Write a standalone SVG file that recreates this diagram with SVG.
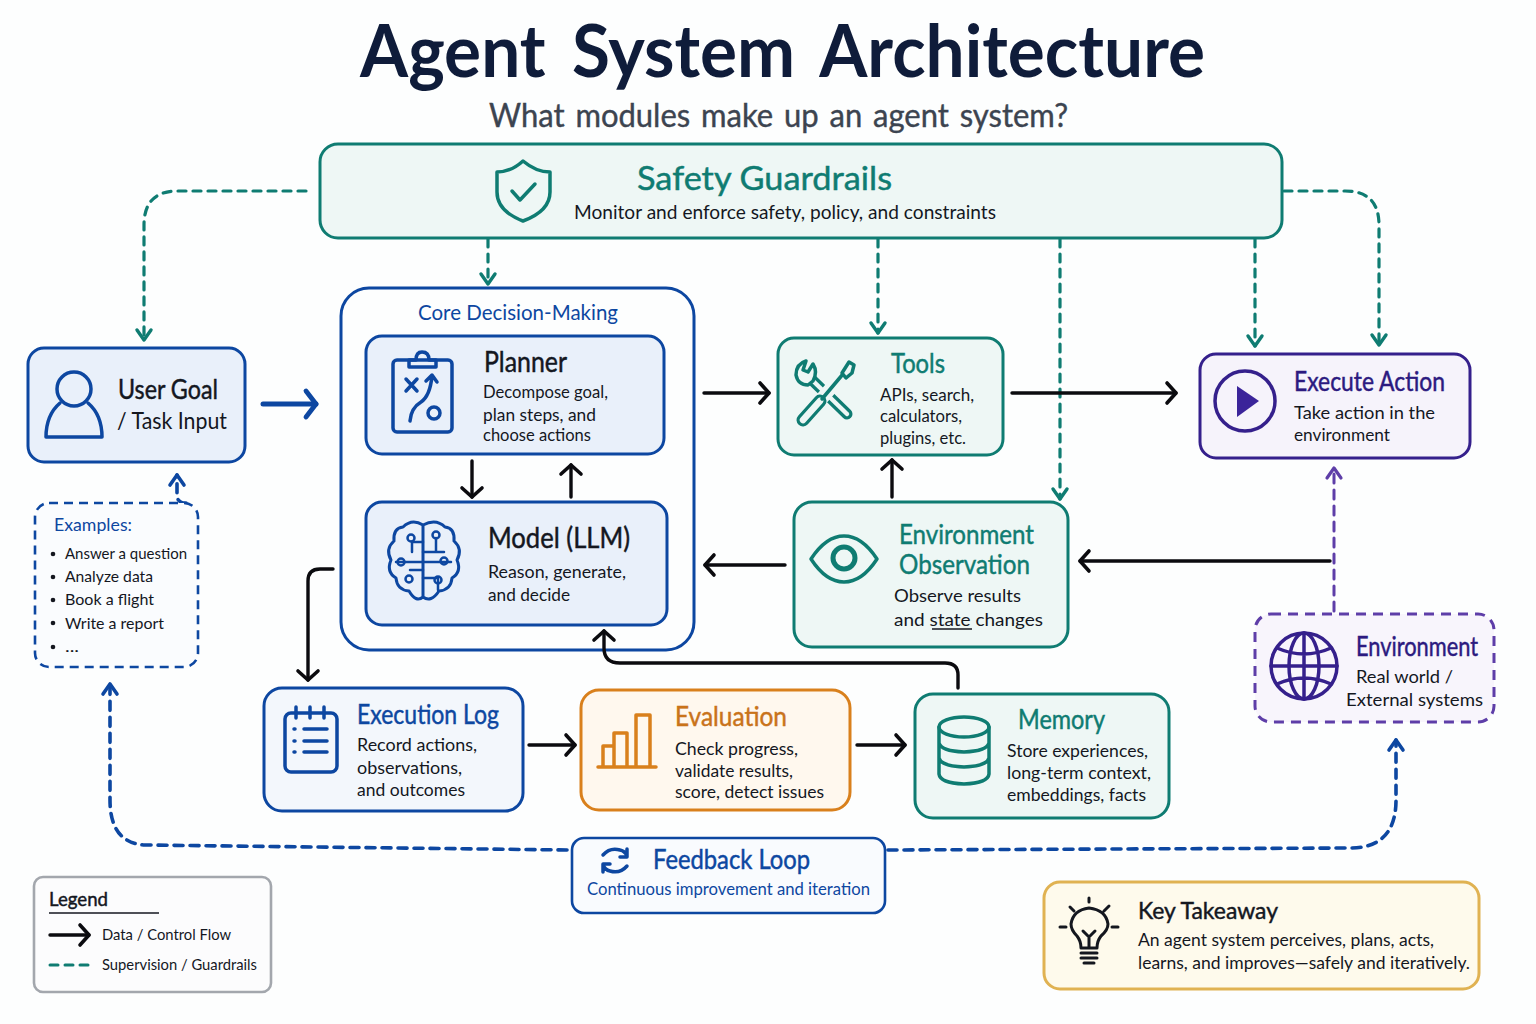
<svg xmlns="http://www.w3.org/2000/svg" width="1536" height="1024" viewBox="0 0 1536 1024">
<style>
text{font-family:"Lato","Noto Sans","Liberation Sans",sans-serif;fill:#14171f;stroke:#14171f;stroke-width:0}
.box{stroke-width:3}
.teal{fill:#eef7f5;stroke:#0f7c72}
.blue{fill:#e9f0fa;stroke:#0d47a1}
.lblue{fill:#f3f7fc;stroke:#0d47a1}
.ind{fill:#f6f3fb;stroke:#35208c}
.ic{fill:none;stroke-width:3.5;stroke-linecap:round;stroke-linejoin:round}
.ict{stroke:#0f7c72}.icb{stroke:#0d47a1}.ici{stroke:#35208c}.ico{stroke:#d9801c}.ick{stroke:#14171f}
.tt{fill:#0f7c72;stroke:#0f7c72}.tb{fill:#0d47a1;stroke:#0d47a1}.ti{fill:#2c1a80;stroke:#2c1a80}.to{fill:#c9731a;stroke:#c9731a}
.h{font-size:26px}
.w{stroke-width:.45}
.d{font-size:18px}
.cn{fill:none;stroke-linecap:round;stroke-linejoin:round}
.k{stroke:#0b0b0f;stroke-width:3.4}
.gd{stroke:#0f7c72;stroke-width:3.2;stroke-dasharray:8 7}
.fb{stroke:#0d47a1;stroke-width:3.6;stroke-dasharray:9 7}
.pd{stroke:#5e3ea8;stroke-width:3;stroke-dasharray:9 7}
</style>
<defs>
<marker id="ak" markerUnits="userSpaceOnUse" markerWidth="24" markerHeight="28" refX="16" refY="14" orient="auto"><path d="M7 4 L16 14 L7 24" fill="none" stroke="#0b0b0f" stroke-width="3.6" stroke-linecap="round" stroke-linejoin="round"/></marker>
<marker id="at" markerUnits="userSpaceOnUse" markerWidth="24" markerHeight="28" refX="16" refY="14" orient="auto"><path d="M6 7 L16 14 L6 21" fill="none" stroke="#0f7c72" stroke-width="3.4" stroke-linecap="round" stroke-linejoin="round"/></marker>
<marker id="ab" markerUnits="userSpaceOnUse" markerWidth="24" markerHeight="28" refX="16" refY="14" orient="auto"><path d="M6 7 L16 14 L6 21" fill="none" stroke="#0d47a1" stroke-width="3.6" stroke-linecap="round" stroke-linejoin="round"/></marker>
<marker id="ap" markerUnits="userSpaceOnUse" markerWidth="24" markerHeight="28" refX="16" refY="14" orient="auto"><path d="M6 7 L16 14 L6 21" fill="none" stroke="#5e3ea8" stroke-width="3.2" stroke-linecap="round" stroke-linejoin="round"/></marker>
<marker id="abb" markerUnits="userSpaceOnUse" markerWidth="24" markerHeight="36" refX="18" refY="18" orient="auto"><path d="M8 5 L18 18 L8 31" fill="none" stroke="#0d47a1" stroke-width="4.8" stroke-linecap="round" stroke-linejoin="round"/></marker>
</defs>
<rect width="1536" height="1024" fill="#fdfefe"/>
<g id="title">
<text x="360" y="77" font-size="72" font-weight="700" style="fill:#0f1c3a;stroke:none;word-spacing:10px" textLength="845" lengthAdjust="spacingAndGlyphs">Agent System Architecture</text>
<text x="489" y="127" font-size="32" style="fill:#3c4450;stroke:#3c4450;stroke-width:.4;word-spacing:3px" textLength="579" lengthAdjust="spacingAndGlyphs">What modules make up an agent system?</text>
</g>
<g id="core-group">
<rect x="341" y="288" width="353" height="362" rx="28" fill="#fdfefe" stroke="#0d47a1" stroke-width="3"/>
<text x="418" y="320" font-size="22" class="tb" textLength="200" lengthAdjust="spacingAndGlyphs">Core Decision-Making</text>
</g>
<g id="connectors">
<path class="cn gd" d="M306 191H178Q144 191 144 225V340" marker-end="url(#at)"/>
<path class="cn gd" d="M488 239V284" marker-end="url(#at)"/>
<path class="cn gd" d="M878 239V333" marker-end="url(#at)"/>
<path class="cn gd" d="M1060 239V499" marker-end="url(#at)"/>
<path class="cn gd" d="M1255 239V346" marker-end="url(#at)"/>
<path class="cn gd" d="M1284 191H1345Q1379 191 1379 225V345" marker-end="url(#at)"/>
<path class="cn" d="M263 404H316" stroke="#0d47a1" stroke-width="5" marker-end="url(#abb)"/>
<path class="cn k" d="M704 393H769" marker-end="url(#ak)"/>
<path class="cn k" d="M1012 393H1176" marker-end="url(#ak)"/>
<path class="cn k" d="M472 461V497" marker-end="url(#ak)"/>
<path class="cn k" d="M571 497V465" marker-end="url(#ak)"/>
<path class="cn k" d="M892 497V460" marker-end="url(#ak)"/>
<path class="cn k" d="M785 565H705" marker-end="url(#ak)"/>
<path class="cn k" d="M1330 561H1080" marker-end="url(#ak)"/>
<path class="cn k" d="M333 569H320Q308 569 308 581V680" marker-end="url(#ak)"/>
<path class="cn k" d="M958 688V675Q958 663 945 663H620Q604 663 604 648V631" marker-end="url(#ak)"/>
<path class="cn k" d="M529 745H575" marker-end="url(#ak)"/>
<path class="cn k" d="M857 745H905" marker-end="url(#ak)"/>
<path class="cn pd" d="M1334 611V468" marker-end="url(#ap)"/>
<path class="cn fb" d="M186 503Q177 503 177 495V475" marker-end="url(#ab)"/>
<path class="cn fb" d="M567 850L145 845Q110 843 110 800V684" marker-end="url(#ab)"/>
<path class="cn fb" d="M888 850L1350 848Q1396 848 1396 800V740" marker-end="url(#ab)"/>
</g>
<g id="safety-guardrails">
<rect class="box teal" x="320" y="144" width="962" height="94" rx="18"/>
<path class="ic ict" d="M523 161Q536 172 550 172V192Q550 211 523 221Q497 211 497 192V172Q511 172 523 161Z"/>
<path class="ic ict" d="M512 191L520 200L535 184"/>
<text x="637" y="190" font-size="32" class="tt w" textLength="255" lengthAdjust="spacingAndGlyphs">Safety Guardrails</text>
<text x="574" y="219" font-size="19" textLength="422" lengthAdjust="spacingAndGlyphs">Monitor and enforce safety, policy, and constraints</text>
</g>
<g id="user-goal">
<rect class="box blue" x="28" y="348" width="217" height="114" rx="16"/>
<circle class="ic icb" cx="74" cy="389" r="17"/>
<path class="ic icb" d="M60 403Q46 415 46 437H102Q102 415 88 403"/>
<text x="118" y="399" font-size="26" class="w" textLength="100" lengthAdjust="spacingAndGlyphs">User Goal</text>
<text x="117" y="429" font-size="23" textLength="110" lengthAdjust="spacingAndGlyphs">/ Task Input</text>
</g>
<g id="planner">
<rect class="box blue" x="366" y="336" width="298" height="118" rx="16"/>
<rect class="ic icb" x="393" y="360" width="59" height="72" rx="4"/>
<path class="ic icb" d="M409 367V360H416Q416 352 422 352Q429 352 429 360H436V367Z"/>
<path class="ic icb" d="M406 379L417 391M417 379L406 391M410 421Q411 408 421 402Q430 396 432 376M426 381L432 375L437 382"/>
<circle class="ic icb" cx="434" cy="413" r="6"/>
<text x="484" y="372" font-size="28" class="w" textLength="83" lengthAdjust="spacingAndGlyphs">Planner</text>
<text x="483" y="398" class="d" textLength="125" lengthAdjust="spacingAndGlyphs">Decompose goal,</text>
<text x="483" y="421" class="d" textLength="113" lengthAdjust="spacingAndGlyphs">plan steps, and</text>
<text x="483" y="441" class="d" textLength="108" lengthAdjust="spacingAndGlyphs">choose actions</text>
</g>
<g id="model-llm">
<rect class="box blue" x="366" y="502" width="301" height="123" rx="16"/>
<path class="ic icb" style="stroke-width:3" d="M423 525Q412 518 403 527Q393 528 394 541Q385 549 391 560Q386 572 396 578Q397 590 409 591Q416 603 423 597Q431 603 439 591Q451 590 452 578Q462 572 457 560Q463 549 454 541Q455 528 445 527Q436 518 423 525V597"/>
<path class="ic icb" style="stroke-width:2.5" d="M396 562H451M423 542H412V552M423 578H438V590M423 552H444M423 570H410M436 538V552"/>
<circle class="ic icb" style="stroke-width:2.5" cx="411" cy="538" r="3.5"/>
<circle class="ic icb" style="stroke-width:2.5" cx="436" cy="535" r="3.5"/>
<circle class="ic icb" style="stroke-width:2.5" cx="401" cy="562" r="3.5"/>
<circle class="ic icb" style="stroke-width:2.5" cx="444" cy="561" r="3.5"/>
<circle class="ic icb" style="stroke-width:2.5" cx="409" cy="579" r="3.5"/>
<circle class="ic icb" style="stroke-width:2.5" cx="438" cy="580" r="3.5"/>
<text x="488" y="548" font-size="28" class="w" textLength="142" lengthAdjust="spacingAndGlyphs">Model (LLM)</text>
<text x="488" y="578" class="d" textLength="138" lengthAdjust="spacingAndGlyphs">Reason, generate,</text>
<text x="488" y="601" class="d" textLength="82" lengthAdjust="spacingAndGlyphs">and decide</text>
</g>
<g id="tools">
<rect class="box teal" x="778" y="338" width="225" height="117" rx="16"/>
<g fill="none" stroke-linecap="round" stroke-linejoin="round">
<path d="M808 376L847 414" stroke="#0f7c72" stroke-width="11"/>
<path d="M808 376L847 414" stroke="#eef7f5" stroke-width="4.5"/>
<path d="M803 420L845 372" stroke="#eef7f5" stroke-width="13"/>
<path d="M803 420L820 401" stroke="#0f7c72" stroke-width="13"/>
<path d="M803 420L820 401" stroke="#eef7f5" stroke-width="6.5"/>
<path d="M822 399L843 374" stroke="#0f7c72" stroke-width="3.5"/>
<path class="ic ict" d="M806 361Q796 364 796 375Q798 385 808 385L813 381Q818 372 813 364L808 372L803 370Z" fill="#eef7f5" style="fill:#eef7f5"/>
<path class="ic ict" d="M842 373L849 362L854 365L852 373L846 378Z" style="fill:#eef7f5"/>
</g>
<text x="891" y="373" class="h tt w" textLength="54" lengthAdjust="spacingAndGlyphs">Tools</text>
<text x="880" y="401" font-size="17" textLength="94" lengthAdjust="spacingAndGlyphs">APIs, search,</text>
<text x="880" y="422" font-size="17" textLength="82" lengthAdjust="spacingAndGlyphs">calculators,</text>
<text x="880" y="444" font-size="17" textLength="86" lengthAdjust="spacingAndGlyphs">plugins, etc.</text>
</g>
<g id="execute-action">
<rect class="box ind" x="1200" y="354" width="270" height="104" rx="16"/>
<circle class="ic ici" cx="1245" cy="401" r="30"/>
<path d="M1237 386L1259 401L1237 417Z" fill="#3b249a"/>
<text x="1294" y="391" class="h ti w" textLength="151" lengthAdjust="spacingAndGlyphs">Execute Action</text>
<text x="1294" y="419" class="d" textLength="141" lengthAdjust="spacingAndGlyphs">Take action in the</text>
<text x="1294" y="441" class="d" textLength="96" lengthAdjust="spacingAndGlyphs">environment</text>
</g>
<g id="environment-observation">
<rect class="box teal" x="794" y="502" width="274" height="145" rx="18"/>
<path class="ic ict" d="M811 559Q826 536 844 536Q862 536 877 559Q862 582 844 582Q826 582 811 559Z"/>
<circle class="ic ict" style="stroke-width:5" cx="844" cy="558" r="11"/>
<text x="899" y="544" font-size="27" class="tt w" textLength="135" lengthAdjust="spacingAndGlyphs">Environment</text>
<text x="899" y="574" font-size="27" class="tt w" textLength="131" lengthAdjust="spacingAndGlyphs">Observation</text>
<text x="894" y="602" class="d" textLength="127" lengthAdjust="spacingAndGlyphs">Observe results</text>
<text x="894" y="626" class="d" textLength="149" lengthAdjust="spacingAndGlyphs">and state changes</text>
<path d="M932 629H972" stroke="#14171f" stroke-width="1.5"/>
</g>
<g id="environment">
<rect x="1255" y="614" width="239" height="108" rx="16" fill="#f8f5fc" stroke="#5e3ea8" stroke-width="3" stroke-dasharray="10 7"/>
<circle class="ic ici" cx="1304" cy="666" r="33"/>
<ellipse class="ic ici" cx="1304" cy="666" rx="15" ry="33"/>
<path class="ic ici" d="M1304 633V699M1271 666H1337M1277 648Q1304 660 1331 648M1277 684Q1304 672 1331 684"/>
<text x="1356" y="656" class="h ti w" textLength="122" lengthAdjust="spacingAndGlyphs">Environment</text>
<text x="1356" y="683" class="d" textLength="97" lengthAdjust="spacingAndGlyphs">Real world /</text>
<text x="1346" y="706" class="d" textLength="137" lengthAdjust="spacingAndGlyphs">External systems</text>
</g>
<g id="examples">
<rect x="35" y="503" width="163" height="164" rx="14" fill="#fafcfe" stroke="#0d47a1" stroke-width="2.6" stroke-dasharray="9 6"/>
<text x="54" y="531" font-size="18" class="tb" textLength="78" lengthAdjust="spacingAndGlyphs">Examples:</text>
<g fill="#14171f"><circle cx="53" cy="554" r="2.3"/><circle cx="53" cy="577" r="2.3"/><circle cx="53" cy="600" r="2.3"/><circle cx="53" cy="623" r="2.3"/><circle cx="53" cy="647" r="2.3"/></g>
<text x="65" y="559" font-size="16" textLength="122" lengthAdjust="spacingAndGlyphs">Answer a question</text>
<text x="65" y="582" font-size="16" textLength="88" lengthAdjust="spacingAndGlyphs">Analyze data</text>
<text x="65" y="605" font-size="16" textLength="89" lengthAdjust="spacingAndGlyphs">Book a flight</text>
<text x="65" y="629" font-size="16" textLength="99" lengthAdjust="spacingAndGlyphs">Write a report</text>
<text x="65" y="652" font-size="16" textLength="14" lengthAdjust="spacingAndGlyphs">...</text>
</g>
<g id="execution-log">
<rect class="box lblue" x="264" y="688" width="259" height="123" rx="18"/>
<rect class="ic icb" x="285" y="713" width="52" height="59" rx="6"/>
<path class="ic icb" d="M296 707V718M310 707V718M324 707V718M304 729H327M304 741H327M304 752H327M294 729H295M294 741H295M294 752H295"/>
<text x="357" y="724" class="h tb w" textLength="142" lengthAdjust="spacingAndGlyphs">Execution Log</text>
<text x="357" y="751" class="d" textLength="120" lengthAdjust="spacingAndGlyphs">Record actions,</text>
<text x="357" y="774" class="d" textLength="105" lengthAdjust="spacingAndGlyphs">observations,</text>
<text x="357" y="796" class="d" textLength="108" lengthAdjust="spacingAndGlyphs">and outcomes</text>
</g>
<g id="evaluation">
<rect class="box" x="581" y="690" width="269" height="120" rx="18" fill="#fff8ee" stroke="#d9801c"/>
<path class="ic ico" d="M598 767H656M603 767V746H614M614 767V733H627V767M636 767V715H650V767"/>
<text x="675" y="726" class="h to w" textLength="112" lengthAdjust="spacingAndGlyphs">Evaluation</text>
<text x="675" y="755" class="d" textLength="123" lengthAdjust="spacingAndGlyphs">Check progress,</text>
<text x="675" y="777" class="d" textLength="118" lengthAdjust="spacingAndGlyphs">validate results,</text>
<text x="675" y="798" class="d" textLength="149" lengthAdjust="spacingAndGlyphs">score, detect issues</text>
</g>
<g id="memory">
<rect class="box teal" x="915" y="694" width="254" height="124" rx="18"/>
<ellipse class="ic ict" cx="964" cy="727" rx="25" ry="10"/>
<path class="ic ict" d="M939 727V774Q940 783 964 784Q988 783 989 774V727M939 743Q941 751 964 752Q987 751 989 743M939 758Q941 766 964 767Q987 766 989 758"/>
<text x="1018" y="729" class="h tt w" textLength="87" lengthAdjust="spacingAndGlyphs">Memory</text>
<text x="1007" y="757" class="d" textLength="141" lengthAdjust="spacingAndGlyphs">Store experiences,</text>
<text x="1007" y="779" class="d" textLength="144" lengthAdjust="spacingAndGlyphs">long-term context,</text>
<text x="1007" y="801" class="d" textLength="139" lengthAdjust="spacingAndGlyphs">embeddings, facts</text>
</g>
<g id="feedback-loop">
<rect x="572" y="838" width="313" height="75" rx="12" fill="#f9fbfe" stroke="#0d47a1" stroke-width="2.6"/>
<path class="ic icb" d="M603 855Q610 847 620 850Q625 851 627 856M627 849V857H620M627 866Q620 874 610 871Q605 870 603 865M603 872V864H610"/>
<text x="653" y="869" class="h tb w" textLength="157" lengthAdjust="spacingAndGlyphs">Feedback Loop</text>
<text x="587" y="895" font-size="17" class="tb" textLength="283" lengthAdjust="spacingAndGlyphs">Continuous improvement and iteration</text>
</g>
<g id="legend">
<rect x="34" y="877" width="237" height="115" rx="9" fill="#fcfcfd" stroke="#a3a7ad" stroke-width="2.6"/>
<text x="49" y="906" font-size="20" class="w" textLength="59" lengthAdjust="spacingAndGlyphs">Legend</text>
<path d="M49 913H159" stroke="#14171f" stroke-width="1.5"/>
<path class="cn k" d="M50 935H89" marker-end="url(#ak)"/>
<path class="cn" d="M50 965H88" stroke="#0f7c72" stroke-width="3" stroke-dasharray="8 7"/>
<text x="102" y="940" font-size="15" textLength="129" lengthAdjust="spacingAndGlyphs">Data / Control Flow</text>
<text x="102" y="970" font-size="15" textLength="155" lengthAdjust="spacingAndGlyphs">Supervision / Guardrails</text>
</g>
<g id="key-takeaway">
<rect x="1044" y="882" width="435" height="107" rx="16" fill="#fefaec" stroke="#e0b252" stroke-width="3"/>
<path class="ic ick" style="stroke-width:3" d="M1081 948Q1081 941 1077 936Q1071 930 1071 924Q1073 910 1089 908Q1106 910 1108 924Q1108 930 1101 936Q1097 941 1097 948ZM1081 953H1097M1081 958H1097M1084 963H1094M1089 948V937M1089 937L1083 931M1089 937L1095 931M1089 898V902M1070 907L1074 911M1109 906L1104 911M1060 927H1066M1112 927H1118"/>
<text x="1138" y="919" font-size="24" class="w" textLength="140" lengthAdjust="spacingAndGlyphs">Key Takeaway</text>
<text x="1138" y="946" font-size="17.5" textLength="296" lengthAdjust="spacingAndGlyphs">An agent system perceives, plans, acts,</text>
<text x="1138" y="969" font-size="17.5" textLength="332" lengthAdjust="spacingAndGlyphs">learns, and improves—safely and iteratively.</text>
</g>
</svg>
